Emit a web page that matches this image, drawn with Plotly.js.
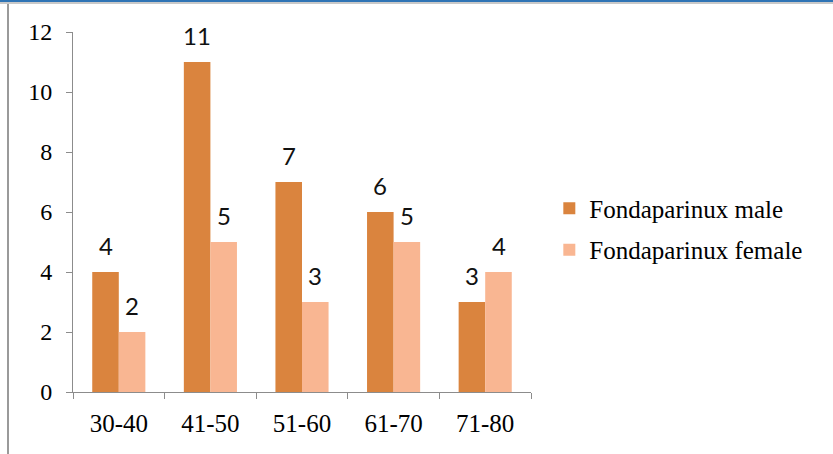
<!DOCTYPE html>
<html>
<head>
<meta charset="utf-8">
<script src="https://cdn.plot.ly/plotly-3.0.1.min.js"></script>
<style>
  html, body { margin: 0; padding: 0; background: #fff; }
  #frame { position: relative; width: 833px; height: 454px; overflow: hidden; }
  #topbar { position: absolute; left: 0; top: 0; width: 833px; height: 2px; background: #2f74b5; }
  #topline { position: absolute; left: 0; top: 2px; width: 833px; height: 2px; background: #c9c9c9; }
  #leftline { position: absolute; left: 7px; top: 4px; width: 2px; height: 450px; background: #9a9a9a; }
  #chart { position: absolute; left: 0; top: 0; width: 833px; height: 454px; }
</style>
</head>
<body>
<div id="frame">
  <div id="chart"></div>
  <div id="topbar"></div>
  <div id="topline"></div>
  <div id="leftline"></div>
</div>
<script>
// Age groups and patient counts per sex
const ageGroups = ['30-40', '41-50', '51-60', '61-70', '71-80'];
const maleCounts = [4, 11, 7, 6, 3];
const femaleCounts = [2, 5, 3, 5, 4];
const seriesNames = ['Fondaparinux male', 'Fondaparinux female'];
const yTicks = [0, 2, 4, 6, 8, 10, 12];

const maleColor = '#da843e';
const femaleColor = '#f9b692';
const axisGray = '#8c8c8c';
const serif = 'Liberation Serif, Times New Roman, serif';

const traces = [
  {
    type: 'bar', name: seriesNames[0], x: ageGroups, y: maleCounts,
    marker: { color: maleColor }, legendgroup: 'm', hoverinfo: 'skip'
  },
  {
    type: 'bar', name: seriesNames[1], x: ageGroups, y: femaleCounts,
    marker: { color: femaleColor }, legendgroup: 'f', hoverinfo: 'skip'
  }
];

// Value labels above each bar
const halfBar = 13.3;
const annotations = [];
function addLabels(values, shift) {
  values.forEach((v, i) => {
    annotations.push({
      x: ageGroups[i], y: v, xref: 'x', yref: 'y',
      text: String(v), showarrow: false,
      xshift: shift, yshift: 27, yanchor: 'middle',
      font: { family: 'Lato, Open Sans, sans-serif', size: 24, color: '#111' }
    });
  });
}
addLabels(maleCounts, -halfBar);
addLabels(femaleCounts, halfBar);

const layout = {
  width: 833, height: 454,
  margin: { l: 73, r: 302, t: 32, b: 62 },
  paper_bgcolor: 'rgba(0,0,0,0)', plot_bgcolor: '#fff',
  barmode: 'group', bargap: 0.42, bargroupgap: 0,
  showlegend: true,
  legend: {
    x: 1.04, xanchor: 'left', y: 0.453, yanchor: 'middle',
    font: { family: serif, size: 25, color: '#000' },
    tracegroupgap: 6, itemclick: false, itemdoubleclick: false
  },
  xaxis: {
    type: 'category', showline: true, linecolor: axisGray, linewidth: 1,
    ticks: 'outside', tickson: 'boundaries', ticklen: 6, tickcolor: axisGray,
    tickfont: { family: serif, size: 25, color: '#000' },
    ticklabelstandoff: 9, showgrid: false, zeroline: false, fixedrange: true
  },
  yaxis: {
    range: [0, 12], tickvals: yTicks, ticktext: yTicks.map(String),
    showline: true, linecolor: axisGray, linewidth: 1,
    ticks: 'outside', ticklen: 6, tickcolor: axisGray,
    tickfont: { family: serif, size: 24, color: '#000' },
    ticklabelstandoff: 9, showgrid: false, zeroline: false, fixedrange: true
  },
  annotations: annotations
};

Plotly.newPlot('chart', traces, layout, { displayModeBar: false, staticPlot: true });
</script>
</body>
</html>
